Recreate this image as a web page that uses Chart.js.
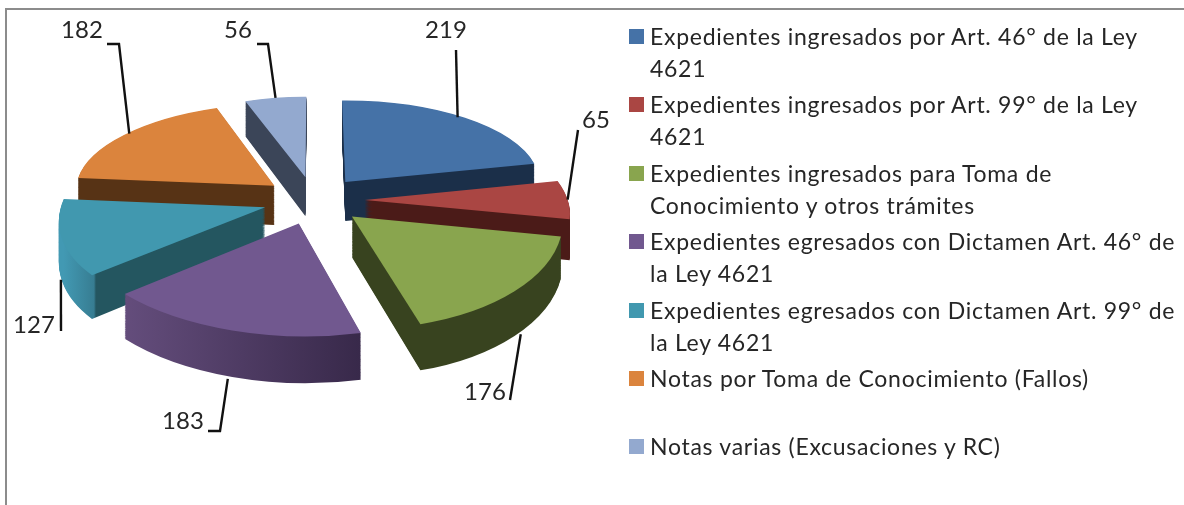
<!DOCTYPE html>
<html>
<head>
<meta charset="utf-8">
<script src="https://cdn.jsdelivr.net/npm/chart.js@4"></script>
<style>
  html, body { margin: 0; padding: 0; background: #fff; overflow: hidden; }
  #wrap { position: relative; width: 1184px; height: 505px; }
  #legend { position: absolute; left: 629px; top: 20px; width: 552px; margin: 0; padding: 0; list-style: none;
            font: 23px Lato, sans-serif; line-height: 32px; color: #262626; letter-spacing: 0.72px; }
  #legend li { position: relative; padding-left: 21px; min-height: 64px; margin-bottom: 4.4px; }
  #legend i { position: absolute; left: 0; top: 9px; width: 15px; height: 15px; }
</style>
</head>
<body>
<div id="wrap">
  <canvas id="chart" width="1184" height="505"></canvas>
  <ul id="legend"></ul>
</div>
<script>
const categories = [
  'Expedientes ingresados por Art. 46° de la Ley 4621',
  'Expedientes ingresados por Art. 99° de la Ley 4621',
  'Expedientes ingresados para Toma de Conocimiento y otros trámites',
  'Expedientes egresados con Dictamen Art. 46° de la Ley 4621',
  'Expedientes egresados con Dictamen Art. 99° de la Ley 4621',
  'Notas por Toma de Conocimiento (Fallos)',
  'Notas varias (Excusaciones y RC)'
];
const values = [219, 65, 176, 183, 127, 182, 56];
const colors = ['#4572A7', '#AA4643', '#89A54E', '#71588F', '#4198AF', '#DB843D', '#93A9CF'];

// side wall shading, left to right across each slice
const wallStops = [
  [[0, '#1b2f49'], [1, '#1b2f49']],
  [[0, '#4b1b18'], [1, '#4b1b18']],
  [[0, '#38431f'], [1, '#38431f']],
  [[0, '#644d7c'], [1, '#38294a']],
  [[0, '#4299b3'], [0.15, '#377d92'], [0.16, '#245660'], [1, '#245660']],
  [[0, '#573315'], [1, '#573315']],
  [[0, '#3b4558'], [1, '#3b4558']]
];

// leader line bends and value label centres, in slice order
const leaderBends = [[[456, 50]], [[578, 130]], [[510, 400]], [[220, 431], [208, 431]], [[61, 331]], [[119, 44], [107, 44]], [[268, 44], [257, 44]]];
const labelSpots = [[446, 30], [596, 120], [485, 392], [183, 421], [34, 325], [82, 30], [238, 30]];

// perspective set-up of the tilted pie
const CX = 314, CY = 200, R = 203, RH = 95, K = 0.118, DEPTH = 40, EXPLODE = 0.25;

function project(u, v, z) {
  const s = 1 / (1 + K * v);
  return { x: CX + R * u * s, y: CY - RH * v * s + DEPTH * z * s };
}

function sliceGeom(arc) {
  const mid = (arc.startAngle + arc.endAngle) / 2;
  const u0 = EXPLODE * Math.cos(mid), v0 = -EXPLODE * Math.sin(mid);
  const rim = (a, z) => project(u0 + Math.cos(a), v0 - Math.sin(a), z);
  return { mid, u0, v0, rim, apex: z => project(u0, v0, z) };
}

// affine that sends the flat slice onto its apex and two rim ends at height z
function sliceMatrix(arc, g, z) {
  const r = arc.outerRadius;
  const px1 = r * Math.cos(arc.startAngle), py1 = r * Math.sin(arc.startAngle);
  const px2 = r * Math.cos(arc.endAngle), py2 = r * Math.sin(arc.endAngle);
  const A = g.apex(z), B = g.rim(arc.startAngle, z), C = g.rim(arc.endAngle, z);
  const qx1 = B.x - A.x, qy1 = B.y - A.y, qx2 = C.x - A.x, qy2 = C.y - A.y;
  const det = px1 * py2 - px2 * py1;
  const a = (qx1 * py2 - qx2 * py1) / det, c = (qx2 * px1 - qx1 * px2) / det;
  const b = (qy1 * py2 - qy2 * py1) / det, d = (qy2 * px1 - qy1 * px2) / det;
  return { a, b, c, d, e: A.x - a * arc.x - c * arc.y, f: A.y - b * arc.x - d * arc.y };
}

// horizontal screen gradient, written in the flat slice's own coordinates
function wallPaint(ctx, m, stops, x0, x1) {
  const n = m.a * m.a + m.c * m.c;
  const g = ctx.createLinearGradient(
    m.a * (x0 - m.e) / n, m.c * (x0 - m.e) / n,
    m.a * (x1 - m.e) / n, m.c * (x1 - m.e) / n);
  stops.forEach(s => g.addColorStop(s[0], s[1]));
  return g;
}

const pie3d = {
  id: 'pie3d',
  beforeDraw(chart) {
    const ctx = chart.ctx;
    ctx.save();
    ctx.strokeStyle = '#8c8c8c';
    ctx.lineWidth = 2;
    ctx.beginPath();
    ctx.moveTo(6, 505);
    ctx.lineTo(6, 9);
    ctx.lineTo(1184, 9);
    ctx.stroke();
    ctx.restore();
  },
  beforeDatasetsDraw(chart) {
    const ctx = chart.ctx;
    const arcs = chart.getDatasetMeta(0).data;
    const order = arcs.map((arc, i) => i).sort((p, q) =>
      sliceGeom(arcs[p]).apex(0).y - sliceGeom(arcs[q]).apex(0).y);

    order.forEach(i => {
      const arc = arcs[i], g = sliceGeom(arc);
      const xs = [g.apex(0).x, g.rim(arc.startAngle, 0).x, g.rim(arc.endAngle, 0).x, g.rim(arc.startAngle, 1).x, g.rim(arc.endAngle, 1).x];
      const x0 = Math.min(...xs), x1 = Math.max(...xs);
      const wall = Object.create(arc);
      const steps = 50;
      for (let s = steps; s > 0; s--) {
        const m = sliceMatrix(arc, g, s / steps);
        ctx.save();
        ctx.transform(m.a, m.b, m.c, m.d, m.e, m.f);
        wall.options = Object.assign({}, arc.options, { backgroundColor: wallPaint(ctx, m, wallStops[i], x0, x1) });
        wall.draw(ctx);
        ctx.restore();
      }
      const m = sliceMatrix(arc, g, 0);
      ctx.save();
      ctx.transform(m.a, m.b, m.c, m.d, m.e, m.f);
      arc.draw(ctx);
      ctx.restore();
    });

    // leader lines and value labels
    ctx.save();
    ctx.strokeStyle = '#111';
    ctx.lineWidth = 2.4;
    ctx.fillStyle = '#262626';
    ctx.font = '24px Lato, sans-serif';
    ctx.textAlign = 'center';
    ctx.textBaseline = 'middle';
    arcs.forEach((arc, i) => {
      const g = sliceGeom(arc);
      const front = Math.sin(g.mid) > 0.1;
      const start = g.rim(g.mid, front ? 1 : 0);
      ctx.beginPath();
      ctx.moveTo(start.x, start.y);
      leaderBends[i].forEach(p => ctx.lineTo(p[0], p[1]));
      ctx.stroke();
      ctx.fillText(String(values[i]), labelSpots[i][0], labelSpots[i][1]);
    });
    ctx.restore();
    return false;
  }
};

new Chart(document.getElementById('chart'), {
  type: 'pie',
  data: {
    labels: categories,
    datasets: [{ data: values, backgroundColor: colors, borderWidth: 0 }]
  },
  options: {
    responsive: false,
    animation: false,
    plugins: { legend: { display: false }, tooltip: { enabled: false } }
  },
  plugins: [pie3d]
});

const legendEl = document.getElementById('legend');
categories.forEach((name, i) => {
  const li = document.createElement('li');
  const box = document.createElement('i');
  box.style.background = colors[i];
  li.appendChild(box);
  li.appendChild(document.createTextNode(name));
  legendEl.appendChild(li);
});
</script>
</body>
</html>
